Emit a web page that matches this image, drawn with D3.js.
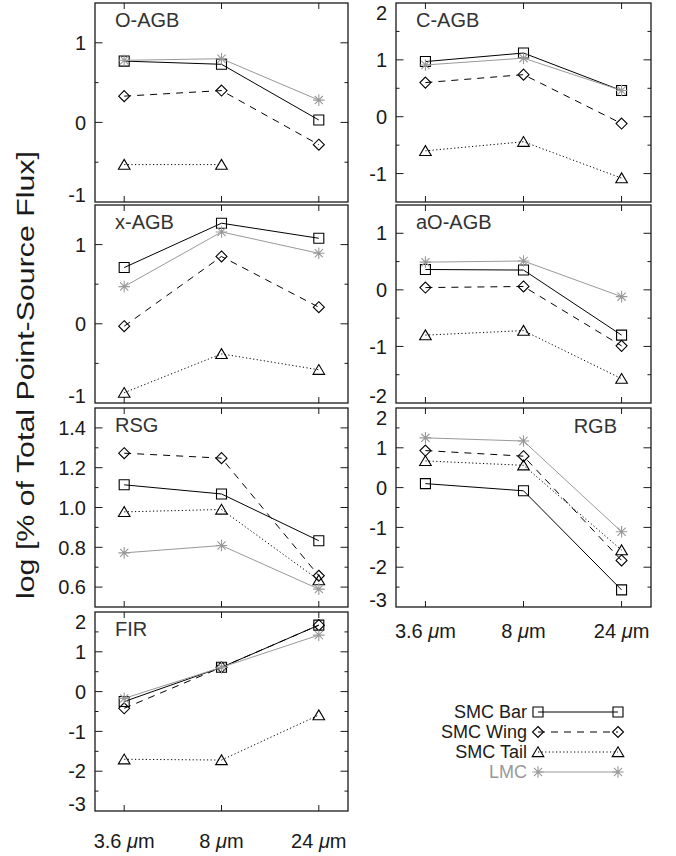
<!DOCTYPE html>
<html>
<head>
<meta charset="utf-8">
<script src="https://cdn.jsdelivr.net/npm/d3@7"></script>
<style>
  html, body { margin: 0; padding: 0; background: #fff; }
  svg { display: block; }
  text { font-family: "Liberation Sans", Arial, Helvetica, sans-serif; }
</style>
</head>
<body>
<svg id="chart" width="676" height="856"></svg>
<script>
// ---------------- DATA ----------------
const wavelengths = ["3.6", "8", "24"];
const seriesNames = ["SMC Bar", "SMC Wing", "SMC Tail", "LMC"];
const panelNames = ["O-AGB", "C-AGB", "x-AGB", "aO-AGB", "RSG", "RGB", "FIR"];
const yAxisTitle = "log [% of Total Point-Source Flux]";

// values per panel: [3.6um, 8um, 24um]
const oagbBar  = [0.77, 0.73, 0.03];
const oagbWing = [0.33, 0.40, -0.28];
const oagbTail = [-0.53, -0.53, null];
const oagbLmc  = [0.78, 0.80, 0.28];

const cagbBar  = [0.97, 1.12, 0.46];
const cagbWing = [0.60, 0.74, -0.12];
const cagbTail = [-0.60, -0.44, -1.08];
const cagbLmc  = [0.91, 1.03, 0.46];

const xagbBar  = [0.71, 1.27, 1.08];
const xagbWing = [-0.03, 0.85, 0.21];
const xagbTail = [-0.87, -0.38, -0.58];
const xagbLmc  = [0.47, 1.16, 0.89];

const aoagbBar  = [0.36, 0.35, -0.80];
const aoagbWing = [0.04, 0.06, -0.99];
const aoagbTail = [-0.80, -0.72, -1.57];
const aoagbLmc  = [0.49, 0.51, -0.12];

const rsgBar  = [1.114, 1.068, 0.833];
const rsgWing = [1.273, 1.248, 0.657];
const rsgTail = [0.978, 0.99, 0.635];
const rsgLmc  = [0.772, 0.809, 0.59];

const rgbBar  = [0.10, -0.08, -2.57];
const rgbWing = [0.93, 0.79, -1.83];
const rgbTail = [0.67, 0.56, -1.57];
const rgbLmc  = [1.25, 1.17, -1.11];

const firBar  = [-0.25, 0.61, 1.67];
const firWing = [-0.42, 0.61, 1.67];
const firTail = [-1.70, -1.72, -0.59];
const firLmc  = [-0.17, 0.61, 1.42];

// y tick label values per panel
const oagbTicks  = [-1, 0, 1];
const cagbTicks  = [-1, 0, 1, 2];
const xagbTicks  = [-1, 0, 1];
const aoagbTicks = [-2, -1, 0, 1];
const rsgTicks   = [0.6, 0.8, 1.0, 1.2, 1.4];
const rgbTicks   = [-3, -2, -1, 0, 1, 2];
const firTicks   = [-3, -2, -1, 0, 1, 2];

// ---------------- LAYOUT ----------------
const colX = [[95, 348], [396, 651]];
const panels = [
  {name: panelNames[0], col: 0, top: 3,   bottom: 202, domain: [-1, 1.5], minor: 0.5, ticks: oagbTicks, fmt: d => String(d), values: [oagbBar, oagbWing, oagbTail, oagbLmc], title: "left"},
  {name: panelNames[1], col: 1, top: 3,   bottom: 202, domain: [-1.5, 2], minor: 0.5, ticks: cagbTicks, fmt: d => String(d), values: [cagbBar, cagbWing, cagbTail, cagbLmc], title: "left"},
  {name: panelNames[2], col: 0, top: 205, bottom: 403, domain: [-1, 1.5], minor: 0.5, ticks: xagbTicks, fmt: d => String(d), values: [xagbBar, xagbWing, xagbTail, xagbLmc], title: "left"},
  {name: panelNames[3], col: 1, top: 205, bottom: 403, domain: [-2, 1.5], minor: 0.5, ticks: aoagbTicks, fmt: d => String(d), values: [aoagbBar, aoagbWing, aoagbTail, aoagbLmc], title: "left"},
  {name: panelNames[4], col: 0, top: 408, bottom: 607, domain: [0.5, 1.5], minor: 0.1, ticks: rsgTicks, fmt: d => d.toFixed(1), values: [rsgBar, rsgWing, rsgTail, rsgLmc], title: "left"},
  {name: panelNames[5], col: 1, top: 408, bottom: 607, domain: [-3, 2], minor: 0.5, ticks: rgbTicks, fmt: d => String(d), values: [rgbBar, rgbWing, rgbTail, rgbLmc], title: "right", xlabels: true},
  {name: panelNames[6], col: 0, top: 612, bottom: 811, domain: [-3, 2], minor: 0.5, ticks: firTicks, fmt: d => String(d), values: [firBar, firWing, firTail, firLmc], title: "left", xlabels: true}
];

const styles = [
  {stroke: "#000", dash: null, marker: "square"},
  {stroke: "#000", dash: "7,6", marker: "diamond"},
  {stroke: "#000", dash: "1.2,2.4", marker: "triangle"},
  {stroke: "#999", dash: null, marker: "star"}
];

const svg = d3.select("#chart");
const ink = "#1a1a1a";

function markerPath(type) {
  const p = d3.path();
  if (type === "square") {
    p.rect(-5, -5, 10, 10);
  } else if (type === "diamond") {
    p.moveTo(0, -5.5); p.lineTo(5.5, 0); p.lineTo(0, 5.5); p.lineTo(-5.5, 0); p.closePath();
  } else if (type === "triangle") {
    p.moveTo(-5.8, 4.6); p.lineTo(5.8, 4.6); p.lineTo(0, -5.2); p.closePath();
  } else if (type === "star") {
    const r = 5.8;
    for (let k = 0; k < 4; k++) {
      const a = k * Math.PI / 4;
      p.moveTo(-r * Math.cos(a), -r * Math.sin(a));
      p.lineTo(r * Math.cos(a), r * Math.sin(a));
    }
  }
  return p.toString();
}

function drawMarker(g, type, x, y, color) {
  g.append("path")
    .attr("d", markerPath(type))
    .attr("transform", `translate(${x},${y})`)
    .attr("fill", "none")
    .attr("stroke", color)
    .attr("stroke-width", 1.1);
}

panels.forEach(pn => {
  const [x0, x1] = colX[pn.col];
  const xs = d3.scaleLinear().domain([-0.3, 2.3]).range([x0, x1]);
  const ys = d3.scaleLinear().domain(pn.domain).range([pn.bottom, pn.top]);
  const g = svg.append("g");

  // ticks (inward)
  const eps = 1e-6;
  const minorVals = d3.range(Math.ceil(pn.domain[0] / pn.minor - eps), Math.floor(pn.domain[1] / pn.minor + eps) + 1)
    .map(k => +(k * pn.minor).toFixed(6));
  const tickG = g.append("g").attr("stroke", ink).attr("stroke-width", 1);
  minorVals.forEach(v => {
    if (Math.abs(v - pn.domain[0]) < eps || Math.abs(v - pn.domain[1]) < eps) return;
    const isMajor = pn.ticks.some(t => Math.abs(t - v) < eps);
    const len = isMajor ? 7.5 : 3.5;
    const y = ys(v);
    tickG.append("line").attr("x1", x0).attr("x2", x0 + len).attr("y1", y).attr("y2", y);
    tickG.append("line").attr("x1", x1).attr("x2", x1 - len).attr("y1", y).attr("y2", y);
  });
  wavelengths.forEach((w, i) => {
    const x = xs(i);
    tickG.append("line").attr("x1", x).attr("x2", x).attr("y1", pn.top).attr("y2", pn.top + 6);
    tickG.append("line").attr("x1", x).attr("x2", x).attr("y1", pn.bottom).attr("y2", pn.bottom - 6);
  });

  // y tick labels
  pn.ticks.forEach(v => {
    const y = Math.max(pn.top + 10, Math.min(pn.bottom - 7, ys(v)));
    g.append("text")
      .attr("x", x0 - 9).attr("y", y).attr("dy", "0.36em")
      .attr("text-anchor", "end")
      .attr("font-size", 20).attr("fill", ink)
      .text(pn.fmt(v));
  });

  // frame
  g.append("rect")
    .attr("x", x0).attr("y", pn.top)
    .attr("width", x1 - x0).attr("height", pn.bottom - pn.top)
    .attr("fill", "none").attr("stroke", ink).attr("stroke-width", 1.3);

  // title
  if (pn.title === "left") {
    g.append("text").attr("x", x0 + 20).attr("y", pn.top + 24)
      .attr("font-size", 20).attr("fill", "#333").text(pn.name);
  } else {
    g.append("text").attr("x", x1 - 34).attr("y", pn.top + 25)
      .attr("text-anchor", "end")
      .attr("font-size", 20).attr("fill", "#333").text(pn.name);
  }

  // series lines
  const line = d3.line()
    .defined(d => d.v != null)
    .x(d => xs(d.i)).y(d => ys(d.v));
  pn.values.forEach((vals, s) => {
    const pts = vals.map((v, i) => ({i, v}));
    g.append("path")
      .attr("d", line(pts))
      .attr("fill", "none")
      .attr("stroke", styles[s].stroke)
      .attr("stroke-width", 1)
      .attr("stroke-dasharray", styles[s].dash);
    pts.filter(d => d.v != null).forEach(d => drawMarker(g, styles[s].marker, xs(d.i), ys(d.v), styles[s].stroke));
  });

  // x labels
  if (pn.xlabels) {
    const ly = pn.col === 0 ? pn.bottom + 37 : pn.bottom + 31;
    wavelengths.forEach((w, i) => {
      const t = g.append("text").attr("x", xs(i)).attr("y", ly)
        .attr("text-anchor", "middle").attr("font-size", 20).attr("fill", ink);
      t.append("tspan").text(w + " ");
      t.append("tspan").attr("font-style", "italic").text("\u03bc");
      t.append("tspan").text("m");
    });
  }
});

// y axis title
svg.append("text")
  .attr("transform", "translate(34,375) rotate(-90)")
  .attr("text-anchor", "middle")
  .attr("font-size", 23).attr("fill", ink)
  .attr("textLength", 448).attr("lengthAdjust", "spacingAndGlyphs")
  .text(yAxisTitle);

// legend
const legY = [712, 732, 752, 772];
const legG = svg.append("g");
seriesNames.forEach((nm, s) => {
  const y = legY[s];
  legG.append("text").attr("x", 527).attr("y", y).attr("dy", "0.36em")
    .attr("text-anchor", "end").attr("font-size", 18)
    .attr("fill", s === 3 ? "#999" : ink).text(nm);
  legG.append("line").attr("x1", 538).attr("x2", 618).attr("y1", y).attr("y2", y)
    .attr("stroke", styles[s].stroke).attr("stroke-width", 1)
    .attr("stroke-dasharray", styles[s].dash);
  drawMarker(legG, styles[s].marker, 538, y, styles[s].stroke);
  drawMarker(legG, styles[s].marker, 618, y, styles[s].stroke);
});
</script>
</body>
</html>
